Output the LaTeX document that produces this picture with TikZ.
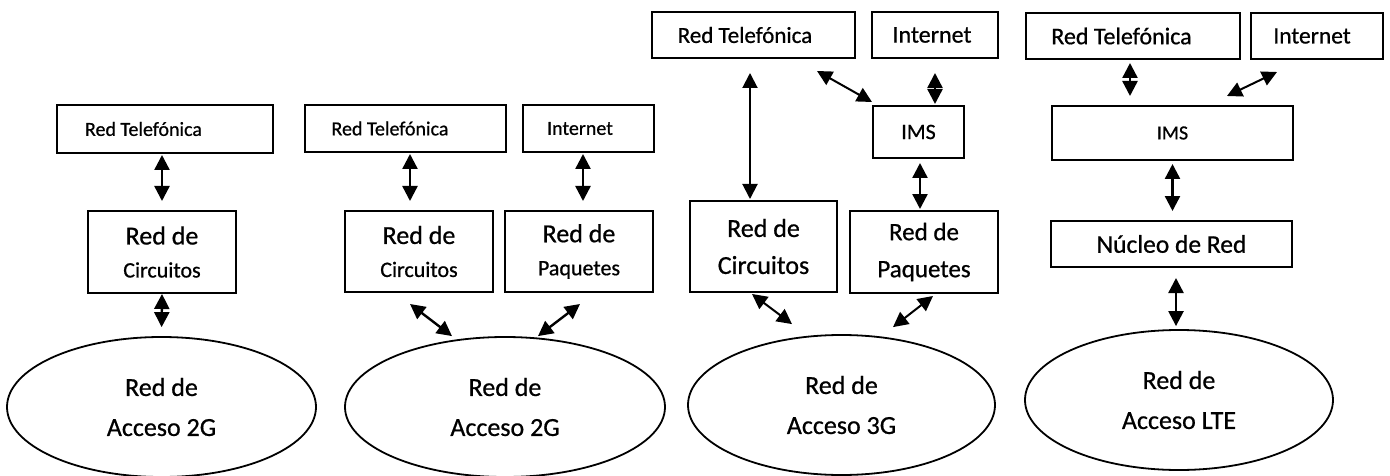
\documentclass[tikz,border=0pt]{standalone}
\usepackage{fontspec}
\setmainfont{Carlito}[FakeBold=0.7]
\usetikzlibrary{shapes.geometric,arrows.meta,calc}
\newcommand{\fsz}[2]{\fontsize{#1}{#2}\selectfont}
\begin{document}
\begin{tikzpicture}[x=1pt,y=-1pt,
  box/.style={draw, line width=2pt, inner sep=0pt},
  ell/.style={draw, ellipse, line width=1.8pt, inner sep=0pt, align=center, font=\fsz{26}{40}},
  arr/.style={line width=2.4pt, {Triangle[length=15pt,width=15pt]}-{Triangle[length=15pt,width=15pt]}},
  two/.style={box, align=center, font=\fsz{22}{33}}
]
\useasboundingbox (0,0) rectangle (1390,476);

% ---------- Panel 1 ----------
\node[box, minimum width=216, minimum height=48, font=\fsz{20}{24}] (rt1) at (165,129) {Red Telefónica\kern43pt};
\node[two, minimum width=148, minimum height=82] (c1) at (162,252) {{\fsz{26}{33}Red de}\\Circuitos};
\node[ell, minimum width=309, minimum height=140] (a1) at (161.5,407) {Red de\\Acceso 2G};
\draw[arr, shorten <=1pt, shorten >=9pt] (rt1.south -| c1.north) -- (c1.north);
\draw[arr, shorten >=9pt] (c1.south) -- (a1.north);

% ---------- Panel 2 ----------
\node[box, minimum width=201, minimum height=47, font=\fsz{20}{24}] (rt2) at (405.5,128.5) {Red Telefónica\kern31pt};
\node[box, minimum width=131, minimum height=47, font=\fsz{20}{24}] (in2) at (588.5,128.5) {Internet\kern17pt};
\node[two, minimum width=148, minimum height=81] (c2) at (419,251.5) {{\fsz{26}{33}Red de}\\Circuitos};
\node[two, minimum width=148, minimum height=81] (p2) at (579,251.5) {{\fsz{26}{33}Red de}\\Paquetes};
\node[ell, minimum width=320, minimum height=140] (a2) at (505,407) {Red de\\Acceso 2G};
\draw[arr, shorten <=1pt, shorten >=9pt] ([xshift=-9pt]c2.north |- rt2.south) -- ([xshift=-9pt]c2.north);
\draw[arr, shorten <=1pt, shorten >=9pt] ([xshift=4pt]p2.north |- in2.south) -- ([xshift=4pt]p2.north);
\draw[arr] ([xshift=-9pt,yshift=-11pt]c2.south) -- ([xshift=-53pt]a2.north);
\draw[arr] ([xshift=1pt,yshift=-11pt]p2.south) -- ([xshift=33pt]a2.north);

% ---------- Panel 3 ----------
\node[box, minimum width=203, minimum height=46, font=\fsz{23}{28}] (rt3) at (753.5,35) {Red Telefónica\kern17pt};
\node[box, minimum width=126, minimum height=46, font=\fsz{24}{28}] (in3) at (935,35) {Internet\kern6pt};
\node[box, minimum width=91, minimum height=52, font=\fsz{22}{26}] (ims3) at (918.5,132) {IMS};
\node[box, align=center, font=\fsz{26}{37}, minimum width=147, minimum height=91] (c3) at (763.5,246.5) {Red de\\Circuitos};
\node[box, align=center, font=\fsz{25}{37}, minimum width=148, minimum height=82] (p3) at (924,252) {Red de\\Paquetes};
\node[ell, minimum width=307, minimum height=140] (a3) at (841.5,405) {Red de\\Acceso 3G};
\draw[arr, line width=2pt, shorten <=14pt, shorten >=1pt] ([xshift=-13.5pt]c3.north |- rt3.south) -- ([xshift=-13.5pt]c3.north);
\draw[arr, line width=2pt] ([xshift=63.5pt,yshift=-12pt]rt3.south) -- ([yshift=3pt]ims3.north west);
\draw[arr, shorten <=14pt, shorten >=1pt] (in3.south) -- (in3.south |- ims3.north);
\draw[arr, shorten <=4pt, shorten >=1pt] ([xshift=1.5pt]ims3.south) -- ([xshift=1.5pt]ims3.south |- p3.north);
\draw[arr, line width=2pt] ([xshift=-11.5pt,yshift=-1pt]c3.south) -- ([xshift=-49.5pt,yshift=10pt]a3.north);
\draw[arr, line width=2pt] ([xshift=9pt,yshift=-2pt]p3.south) -- ([xshift=51.5pt,yshift=7pt]a3.north);

% ---------- Panel 4 ----------
\node[box, minimum width=214, minimum height=46, font=\fsz{24}{28}] (rt4) at (1133,36) {Red Telefónica\kern23pt};
\node[box, minimum width=132, minimum height=46, font=\fsz{23.5}{28}] (in4) at (1317,36) {Internet\kern10pt};
\node[box, minimum width=241, minimum height=54, font=\fsz{20}{24}] (ims4) at (1172.5,133) {IMS};
\node[box, minimum width=241, minimum height=46, font=\fsz{25.5}{30}] (nuc4) at (1171.5,244) {Núcleo de Red};
\node[ell, minimum width=308, minimum height=140] (a4) at (1179,400) {Red de\\Acceso LTE};
\draw[arr, shorten <=3pt, shorten >=9pt] ([xshift=-3pt]rt4.south) -- ([xshift=-3pt]rt4.south |- ims4.north);
\draw[arr, line width=2pt] ([xshift=-40pt,yshift=-12pt]in4.south) -- ([xshift=54.5pt,yshift=9pt]ims4.north);
\draw[arr, shorten <=3pt, shorten >=9pt] (ims4.south) -- (ims4.south |- nuc4.north);
\draw[arr, shorten <=10pt, shorten >=3pt] ([xshift=4.5pt]nuc4.south) -- ([xshift=4.5pt]nuc4.south |- a4.north);
\end{tikzpicture}
\end{document}
